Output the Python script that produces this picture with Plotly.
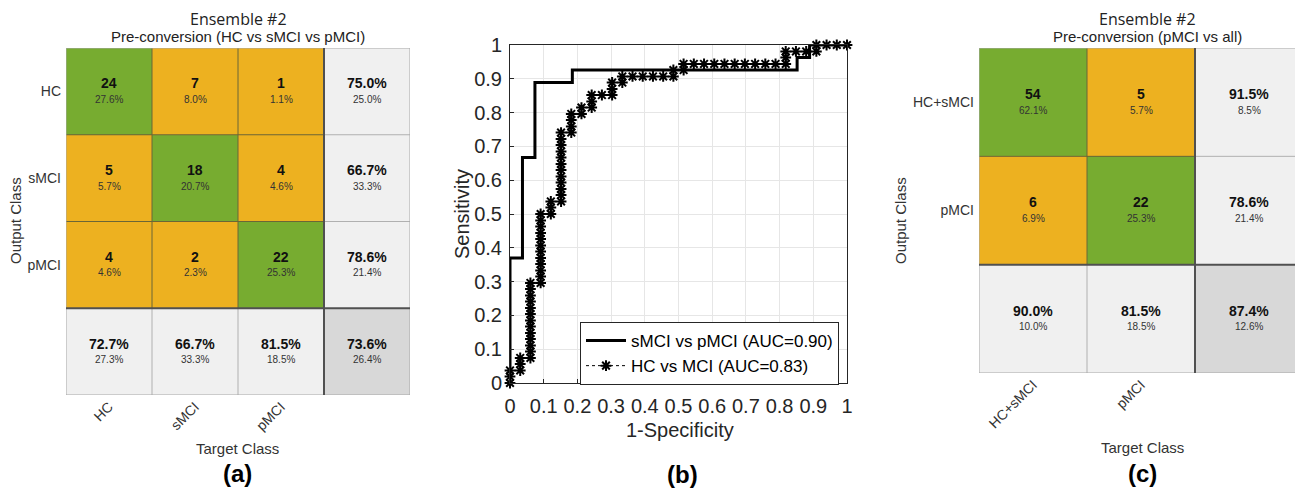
import plotly.graph_objects as go

# ---------------- data ----------------
# Panel (a): HC vs sMCI vs pMCI
cls_a = ["HC", "sMCI", "pMCI"]
counts_a = [[24, 7, 1], [5, 18, 4], [4, 2, 22]]
pct_a = [["27.6%", "8.0%", "1.1%"], ["5.7%", "20.7%", "4.6%"], ["4.6%", "2.3%", "25.3%"]]
row_ok_a = ["75.0%", "66.7%", "78.6%"]
row_err_a = ["25.0%", "33.3%", "21.4%"]
col_ok_a = ["72.7%", "66.7%", "81.5%"]
col_err_a = ["27.3%", "33.3%", "18.5%"]
tot_a = ("73.6%", "26.4%")

# Panel (c): pMCI vs all
cls_c = ["HC+sMCI", "pMCI"]
counts_c = [[54, 5], [6, 22]]
pct_c = [["62.1%", "5.7%"], ["6.9%", "25.3%"]]
row_ok_c = ["91.5%", "78.6%"]
row_err_c = ["8.5%", "21.4%"]
col_ok_c = ["90.0%", "81.5%"]
col_err_c = ["10.0%", "18.5%"]
tot_c = ("87.4%", "12.6%")

# Panel (b): ROC curves
fpr_s = [0.0, 0.0, 0.037, 0.037, 0.074, 0.074, 0.185, 0.185, 0.852, 0.852, 0.889, 0.889, 1.0]
tpr_s = [0.0, 0.370, 0.370, 0.667, 0.667, 0.889, 0.889, 0.926, 0.926, 0.963, 0.963, 1.0, 1.0]

hc_columns = [
    (0.0, [0.0, 0.019, 0.037]),
    (0.0303, [0.037, 0.056, 0.074]),
    (0.0606, [0.074, 0.093, 0.111, 0.130, 0.148, 0.167, 0.185, 0.204, 0.222, 0.241, 0.259, 0.278, 0.296]),
    (0.0909, [0.296, 0.315, 0.333, 0.352, 0.370, 0.389, 0.407, 0.426, 0.444, 0.463, 0.481, 0.500]),
    (0.1212, [0.500, 0.519, 0.537]),
    (0.1515, [0.537, 0.556, 0.574, 0.593, 0.611, 0.630, 0.648, 0.667, 0.685, 0.704, 0.722, 0.741]),
    (0.1818, [0.741, 0.759, 0.778, 0.796]),
    (0.2121, [0.796, 0.815]),
    (0.2424, [0.815, 0.833, 0.852]),
    (0.2727, [0.852]),
    (0.3030, [0.852, 0.870, 0.889]),
    (0.3333, [0.889, 0.907]),
    (0.3636, [0.907]),
    (0.3939, [0.907]),
    (0.4242, [0.907]),
    (0.4545, [0.907]),
    (0.4848, [0.907, 0.926]),
    (0.5152, [0.926, 0.944]),
    (0.5455, [0.944]),
    (0.5758, [0.944]),
    (0.6061, [0.944]),
    (0.6364, [0.944]),
    (0.6667, [0.944]),
    (0.6970, [0.944]),
    (0.7273, [0.944]),
    (0.7576, [0.944]),
    (0.7879, [0.944]),
    (0.8182, [0.944, 0.963, 0.981]),
    (0.8485, [0.981]),
    (0.8788, [0.981]),
    (0.9091, [0.981, 1.0]),
    (0.9394, [1.0]),
    (0.9697, [1.0]),
    (1.0, [1.0]),
]

# ---------------- styles ----------------
# the page body has an 8px default margin: the figure is sized to fill the rest
OFF = 8
W, H = 1303 - OFF, 492 - OFF
GREEN, ORANGE, LGRAY, DGRAY = "#77AC30", "#EDB120", "#F0F0F0", "#D8D8D8"
FONT = "Liberation Sans, Arial, sans-serif"
TXT = "#262626"

fig = go.Figure()


def px_x(p):
    return min(1.0, (p - OFF) / W)


def px_y(p):
    return 1 - (p - OFF) / H


def conf_matrix(xa, ya, cls, counts, pct, row_ok, row_err, col_ok, col_err, tot):
    n = len(cls)
    z = []
    for i in range(n + 1):
        row = []
        for j in range(n + 1):
            if i < n and j < n:
                row.append(0 if i == j else 1)
            elif i == n and j == n:
                row.append(3)
            else:
                row.append(2)
        z.append(row)
    fig.add_trace(go.Heatmap(
        z=z, x=list(range(n + 1)), y=list(range(n + 1)),
        xaxis=xa, yaxis=ya, zmin=-0.5, zmax=3.5, showscale=False, hoverinfo="skip",
        colorscale=[[0, GREEN], [0.25, GREEN], [0.25, ORANGE], [0.5, ORANGE],
                    [0.5, LGRAY], [0.75, LGRAY], [0.75, DGRAY], [1, DGRAY]],
    ))
    xr, yr = xa, ya
    for i in range(n + 1):
        for j in range(n + 1):
            if i < n and j < n:
                a, b = "<b>%d</b>" % counts[i][j], pct[i][j]
            elif i < n:
                a, b = "<b>%s</b>" % row_ok[i], row_err[i]
            elif j < n:
                a, b = "<b>%s</b>" % col_ok[j], col_err[j]
            else:
                a, b = "<b>%s</b>" % tot[0], tot[1]
            fig.add_annotation(x=j, y=i, xref=xr, yref=yr, text=a, showarrow=False,
                               yshift=8, font=dict(family=FONT, size=14, color="#111111"))
            fig.add_annotation(x=j, y=i, xref=xr, yref=yr, text=b, showarrow=False,
                               yshift=-8, font=dict(family=FONT, size=10, color="#333333"))
    lo, hi, mid = -0.5, n + 0.5, n - 0.5
    for k in range(1, n):
        b = k - 0.5
        fig.add_shape(type="line", xref=xr, yref=yr, x0=b, x1=b, y0=lo, y1=mid,
                      line=dict(color="#6b6636", width=1))
        fig.add_shape(type="line", xref=xr, yref=yr, x0=lo, x1=mid, y0=b, y1=b,
                      line=dict(color="#6b6636", width=1))
        fig.add_shape(type="line", xref=xr, yref=yr, x0=b, x1=b, y0=mid, y1=hi,
                      line=dict(color="#b0b0b0", width=1))
        fig.add_shape(type="line", xref=xr, yref=yr, x0=mid, x1=hi, y0=b, y1=b,
                      line=dict(color="#b0b0b0", width=1))
    fig.add_shape(type="rect", xref=xr, yref=yr, x0=lo, x1=hi, y0=lo, y1=hi,
                  line=dict(color="#a8a8a8", width=1))
    fig.add_shape(type="line", xref=xr, yref=yr, x0=mid, x1=mid, y0=lo, y1=hi,
                  line=dict(color="#505050", width=2))
    fig.add_shape(type="line", xref=xr, yref=yr, x0=lo, x1=hi, y0=mid, y1=mid,
                  line=dict(color="#505050", width=2))


conf_matrix("x", "y", cls_a, counts_a, pct_a, row_ok_a, row_err_a, col_ok_a, col_err_a, tot_a)
conf_matrix("x3", "y3", cls_c, counts_c, pct_c, row_ok_c, row_err_c, col_ok_c, col_err_c, tot_c)

# ROC traces
hc_x, hc_y = [], []
for fx, ys in hc_columns:
    for yv in ys:
        hc_x.append(fx)
        hc_y.append(yv)

fig.add_trace(go.Scatter(x=fpr_s, y=tpr_s, xaxis="x2", yaxis="y2", mode="lines",
                         name="sMCI vs pMCI (AUC=0.90)", cliponaxis=False,
                         line=dict(color="black", width=3)))
fig.add_trace(go.Scatter(x=hc_x, y=hc_y, xaxis="x2", yaxis="y2", mode="lines+markers",
                         name="HC vs MCI (AUC=0.83)", cliponaxis=False,
                         line=dict(color="black", width=1, dash="dot"),
                         marker=dict(symbol="asterisk-open", size=9, color="black",
                                     line=dict(color="black", width=2))))

cm_axis = dict(showgrid=False, zeroline=False, showline=False, ticks="", automargin=False,
               tickfont=dict(family=FONT, size=14, color="#333333"), fixedrange=True)

fig.update_layout(
    width=W, height=H, margin=dict(l=0, r=0, t=0, b=0, autoexpand=False),
    paper_bgcolor="white", plot_bgcolor="white",
    xaxis=dict(domain=[px_x(66), px_x(410)], range=[-0.5, 3.5], anchor="y",
               tickvals=[0, 1, 2], ticktext=cls_a, tickangle=-45, **cm_axis),
    yaxis=dict(domain=[px_y(395), px_y(48)], range=[3.5, -0.5], anchor="x",
               tickvals=[0, 1, 2], ticktext=cls_a, ticklabelstandoff=4, **cm_axis),
    xaxis3=dict(domain=[px_x(979), px_x(1303)], range=[-0.5, 2.5], anchor="y3",
                tickvals=[0, 1], ticktext=cls_c, tickangle=-45, **cm_axis),
    yaxis3=dict(domain=[px_y(373), px_y(48)], range=[2.5, -0.5], anchor="x3",
                tickvals=[0, 1], ticktext=cls_c, ticklabelstandoff=4, **cm_axis),
    xaxis2=dict(domain=[px_x(510), px_x(847)], range=[0, 1], anchor="y2", dtick=0.1,
                showgrid=True, gridcolor="#e6e6e6", zeroline=False, showline=True,
                linecolor=TXT, linewidth=1, mirror=True, ticks="inside", ticklen=4,
                tickcolor=TXT, tickfont=dict(family=FONT, size=20, color=TXT),
                ticklabelstandoff=5, automargin=False),
    yaxis2=dict(domain=[px_y(383), px_y(45)], range=[0, 1], anchor="x2", dtick=0.1,
                showgrid=True, gridcolor="#e6e6e6", zeroline=False, showline=True,
                linecolor=TXT, linewidth=1, mirror=True, ticks="inside", ticklen=4,
                tickcolor=TXT, tickfont=dict(family=FONT, size=20, color=TXT),
                ticklabelstandoff=3, automargin=False),
    showlegend=True,
    legend=dict(x=px_x(580), y=px_y(322), xanchor="left", yanchor="top",
                bgcolor="white", bordercolor=TXT, borderwidth=1,
                font=dict(family=FONT, size=17, color="black"),
                itemwidth=40, tracegroupgap=0),
)


def label(x, y, text, size, family=FONT, angle=0, color="#333333"):
    fig.add_annotation(x=px_x(x), y=px_y(y), xref="paper", yref="paper", text=text,
                       showarrow=False, textangle=angle, xanchor="center", yanchor="middle",
                       font=dict(family=family, size=size, color=color))


# Panel (a) text
label(238, 19, "Ensemble #2", 16, family="Open Sans, sans-serif", color="#222222")
label(238, 37, "Pre-conversion (HC vs sMCI vs pMCI)", 15, color="#222222")
label(15, 221, "Output Class", 15, angle=-90)
label(237, 448, "Target Class", 15)
label(237, 473, "<b>(a)</b>", 24, color="black")

# Panel (b) text
label(462, 214, "Sensitivity", 20, angle=-90, color=TXT)
label(680, 430, "1-Specificity", 20, color=TXT)
label(682, 474, "<b>(b)</b>", 24, color="black")

# Panel (c) text
label(1147, 19, "Ensemble #2", 16, family="Open Sans, sans-serif", color="#222222")
label(1147, 37, "Pre-conversion (pMCI vs all)", 15, color="#222222")
label(900, 221, "Output Class", 15, angle=-90)
label(1142, 447, "Target Class", 15)
label(1142, 473, "<b>(c)</b>", 24, color="black")

fig.write_html("out.html")
